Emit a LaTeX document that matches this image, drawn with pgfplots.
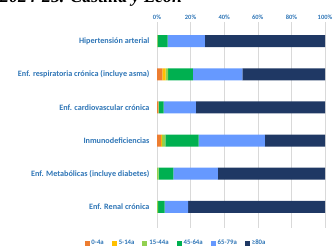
\documentclass[border=0pt]{standalone}
\usepackage{fontspec}
\setmainfont{Carlito}
\newfontfamily\titlefont{Liberation Serif}
\usepackage{pgfplots}
\pgfplotsset{compat=1.18}
\definecolor{cA}{HTML}{ED7D31}
\definecolor{cB}{HTML}{FFC000}
\definecolor{cC}{HTML}{92D050}
\definecolor{cD}{HTML}{00B050}
\definecolor{cE}{HTML}{6699FF}
\definecolor{cF}{HTML}{1F3864}
\definecolor{lab}{HTML}{2E75B6}
\begin{document}
\begin{tikzpicture}[x=1bp,y=1bp]
\path[use as bounding box] (0,0) rectangle (333,248);
\node[anchor=base west,inner sep=0pt,font=\titlefont\bfseries\itshape\fontsize{18}{20}\selectfont] at (0,245.6) {2024-25. Castilla y León};
\begin{axis}[
  at={(157bp,20bp)}, anchor=south west,
  scale only axis, width=168bp, height=206bp,
  xbar stacked, bar width=12bp,
  xmin=0, xmax=100,
  ymin=-0.58, ymax=5.64, y dir=reverse,
  ytick={0,1,2,3,4,5},
  yticklabels={Hipertensión arterial,Enf. respiratoria crónica (incluye asma),Enf. cardiovascular crónica,Inmunodeficiencias,Enf. Metabólicas (incluye diabetes),Enf. Renal crónica},
  xtick={0,20,40,60,80,100},
  xticklabel={\pgfmathprintnumber{\tick}\%},
  /pgf/number format/assume math mode=true,
  xticklabel pos=right,
  tick style={draw=none},
  axis line style={draw=none},
  xmajorgrids, grid style={draw=black!15, line width=0.6pt},
  yticklabel style={font=\bfseries\fontsize{8.2}{9}\selectfont, text=lab, xshift=-4bp},
  xticklabel style={font=\bfseries\fontsize{6.5}{7}\selectfont, text=lab, yshift=-1bp},
  legend style={at={(0.113,-0.073)}, anchor=center, draw=none, fill=none,
    font=\bfseries\fontsize{6.8}{7}\selectfont, text=lab,
    legend columns=6, /tikz/every even column/.append style={column sep=6bp},
    inner sep=0pt},
  legend image code/.code={\fill[#1] (0bp,-2.5bp) rectangle (5bp,2.5bp);},
  every axis plot/.append style={draw=none},
]
\addplot[fill=cA] coordinates {(0,0) (3.2,1) (0.8,2) (2.4,3) (0,4) (0,5)};
\addplot[fill=cB] coordinates {(0,0) (2.0,1) (0,2) (0.6,3) (0,4) (0,5)};
\addplot[fill=cC] coordinates {(0.4,0) (1.4,1) (0.3,2) (2.0,3) (1.0,4) (0.6,5)};
\addplot[fill=cD] coordinates {(5.9,0) (14.7,1) (2.9,2) (19.8,3) (8.7,4) (4.0,5)};
\addplot[fill=cE] coordinates {(22.2,0) (29.5,1) (19.2,2) (39.4,3) (26.5,4) (13.9,5)};
\addplot[fill=cF] coordinates {(71.5,0) (49.2,1) (76.8,2) (35.8,3) (63.8,4) (81.5,5)};
\legend{0-4a,5-14a,15-44a,45-64a,65-79a,≥80a}
\end{axis}
\end{tikzpicture}
\end{document}
